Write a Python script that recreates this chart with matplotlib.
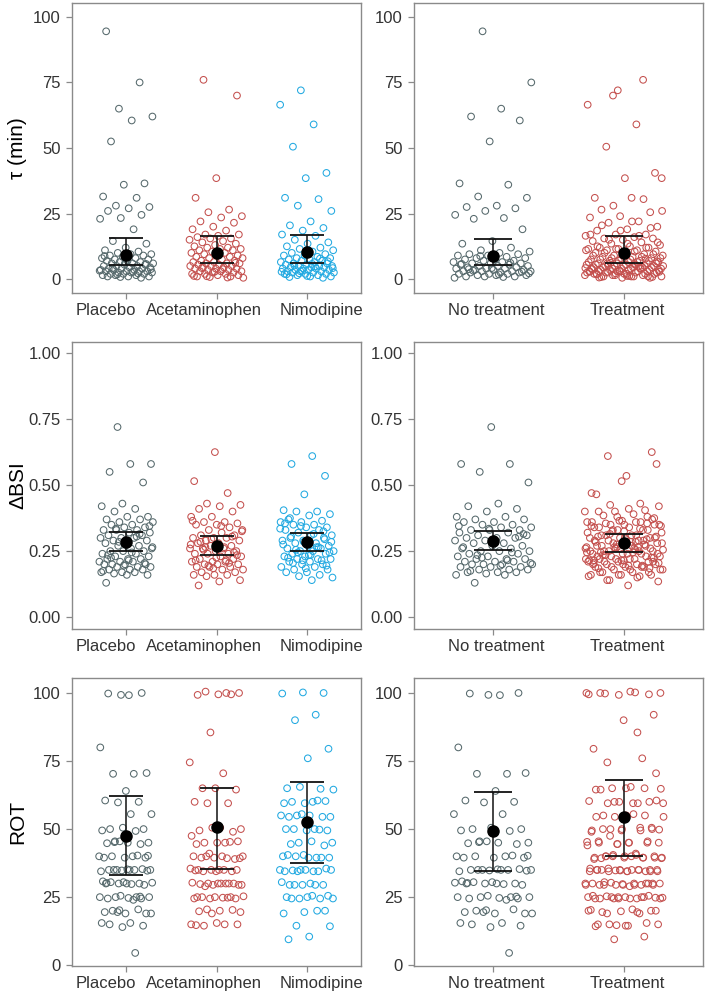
import matplotlib
matplotlib.use("Agg")
import matplotlib.pyplot as plt
import matplotlib.transforms as mtransforms
import numpy as np

plt.rcParams['font.family'] = ['Liberation Sans', 'DejaVu Sans']

# ---------------- data ----------------
groups3 = ["Placebo", "Acetaminophen", "Nimodipine"]
groups2 = ["No treatment", "Treatment"]
ylabels = ["\u03c4 (min)", "\u0394BSI", "ROT"]

tau_placebo = [94.5, 75, 65, 62, 60.5, 52.5, 36.5, 36, 31.5, 31, 28, 27.5, 27, 26, 24.5, 23.3, 23, 19,
               14.5, 13.5, 12, 11, 10.5, 10, 9.5, 9.5, 9, 9, 8.5, 8, 8, 7.5, 7.5, 7, 7, 6.5, 6.5, 6, 6, 6,
               5.5, 5.5, 5, 5, 5, 4.5, 4.5, 4, 4, 4, 3.5, 3.5, 3.5, 3, 3, 3, 3, 2.5, 2.5, 2.5, 2, 2, 2,
               1.5, 1.5, 1.5, 1, 1, 1, 0.5, 0.8, 3.2, 2.8, 4.2, 5.8, 6.2, 8.8, 2.2, 1.8, 3.8]
tau_acet = [76, 70, 38.5, 31, 26.5, 25.5, 24, 23.5, 22, 21.5, 20, 19, 18.5, 17, 17, 16.5, 16, 15.5, 15.5,
            15, 14.5, 14, 13.5, 13, 12.5, 12, 12, 11.5, 11.5, 11, 11, 10.5, 10, 10, 9.5, 9, 9, 8.5, 8.5,
            8, 8, 7.5, 7, 7, 6.5, 6.5, 6, 6, 6, 5.5, 5.5, 5, 5, 5, 4.5, 4.5, 4, 4, 4, 3.5, 3.5, 3, 3, 3,
            2.5, 2.5, 2, 2, 2, 1.5, 1.5, 1, 1, 0.8, 0.5, 3.8, 4.2, 6.2, 2.8, 1.2, 0.6, 1.1]
tau_nimo = [72, 66.5, 59, 50.5, 40.5, 38.5, 31, 30.5, 28, 26, 22, 20.5, 19.5, 18.5, 17, 16.5, 15, 14,
            13.5, 12.5, 12, 11.5, 11, 10.5, 10, 9.5, 9, 9, 8.5, 8, 8, 7.5, 7.5, 7, 7, 6.5, 6.5, 6, 6,
            5.5, 5.5, 5, 5, 5, 4.5, 4.5, 4.5, 4, 4, 4, 3.5, 3.5, 3.5, 3, 3, 3, 2.5, 2.5, 2.5, 2, 2, 2,
            1.5, 1.5, 1, 1, 0.8, 0.5, 3.2, 2.8, 4.8, 5.2, 6.8, 1.2, 1.8, 7.8, 2.2, 4.2, 5.8]

bsi_placebo = [0.72, 0.58, 0.58, 0.55, 0.51, 0.43, 0.42, 0.41, 0.40, 0.38, 0.38, 0.37, 0.37, 0.36, 0.36,
               0.35, 0.35, 0.34, 0.34, 0.33, 0.33, 0.33, 0.32, 0.32, 0.31, 0.31, 0.30, 0.30, 0.30, 0.29,
               0.29, 0.28, 0.28, 0.27, 0.27, 0.26, 0.26, 0.25, 0.25, 0.25, 0.24, 0.24, 0.23, 0.23, 0.22,
               0.22, 0.22, 0.21, 0.21, 0.21, 0.20, 0.20, 0.20, 0.20, 0.19, 0.19, 0.19, 0.18, 0.18, 0.18,
               0.17, 0.17, 0.17, 0.165, 0.16, 0.16, 0.13, 0.315, 0.285, 0.265, 0.245, 0.225, 0.205,
               0.195, 0.175, 0.305, 0.335, 0.345, 0.215, 0.235]
bsi_acet = [0.625, 0.515, 0.47, 0.43, 0.425, 0.42, 0.41, 0.40, 0.38, 0.38, 0.36, 0.36, 0.355, 0.35, 0.35,
            0.34, 0.33, 0.33, 0.32, 0.31, 0.31, 0.30, 0.30, 0.30, 0.29, 0.29, 0.28, 0.28, 0.27, 0.27,
            0.26, 0.26, 0.26, 0.25, 0.25, 0.24, 0.24, 0.24, 0.23, 0.23, 0.22, 0.22, 0.21, 0.21, 0.21,
            0.20, 0.20, 0.20, 0.19, 0.19, 0.19, 0.18, 0.18, 0.17, 0.17, 0.16, 0.16, 0.16, 0.155, 0.14,
            0.135, 0.12, 0.305, 0.295, 0.275, 0.265, 0.255, 0.235, 0.225, 0.215, 0.205, 0.195, 0.325,
            0.345, 0.285, 0.245, 0.185, 0.365, 0.215, 0.265]
bsi_nimo = [0.61, 0.58, 0.535, 0.465, 0.405, 0.40, 0.40, 0.39, 0.385, 0.37, 0.365, 0.36, 0.36, 0.35,
            0.35, 0.34, 0.34, 0.33, 0.33, 0.32, 0.31, 0.31, 0.30, 0.30, 0.29, 0.29, 0.28, 0.28, 0.27,
            0.27, 0.26, 0.26, 0.25, 0.25, 0.25, 0.24, 0.24, 0.23, 0.23, 0.22, 0.22, 0.22, 0.21, 0.21,
            0.20, 0.20, 0.19, 0.19, 0.18, 0.18, 0.17, 0.17, 0.16, 0.155, 0.15, 0.14, 0.305, 0.295,
            0.285, 0.275, 0.265, 0.255, 0.245, 0.235, 0.225, 0.215, 0.345, 0.335, 0.315, 0.205, 0.195,
            0.185, 0.355, 0.265, 0.245, 0.285, 0.235, 0.375, 0.325, 0.215]

rot_placebo = [99.2, 99.8, 100, 99.3, 80, 70.3, 70.3, 70.6, 64, 60.5, 60, 59.8, 55.5, 55.5, 50, 50,
               50.5, 49.5, 49.3, 45.5, 45, 45, 44.8, 44.5, 45.5, 40, 40, 40, 39.5, 39.5, 39.5, 40.3, 35,
               35, 35, 35, 35.3, 34.8, 34.5, 35, 35, 34.7, 30, 30, 30, 30, 30.3, 29.8, 30.5, 29.5, 30.5,
               30.8, 25, 25, 25, 24.7, 24.5, 24.5, 25.5, 25, 24, 20, 19, 19, 19.5, 20.5, 19.5, 19, 15.5,
               15, 14.5, 14, 15.5, 4.5, 45.2, 40.2, 35.2, 30.2, 25.2, 20.2]
rot_acet = [100, 100.5, 100, 99.5, 99.3, 99.5, 85.5, 74.5, 70.5, 65, 64.5, 65, 60, 59.5, 59.5, 50, 50.5,
            49.5, 49, 50.5, 47.5, 45, 45, 45.5, 45, 44.5, 45.3, 41, 40, 40, 39.5, 39, 39.5, 40, 39.3, 40,
            39.3, 35, 35, 34.5, 35, 35.5, 35, 34.5, 35, 34.5, 34.8, 30, 30, 29.5, 30, 29.8, 30, 29.5,
            30.3, 30, 29, 29.5, 30, 25, 25, 24.5, 25.3, 24.8, 25, 24.5, 25, 24.5, 24.8, 20.5, 19.5, 20,
            19.8, 20.3, 19, 15, 15, 14.5, 15, 15.5, 14.7]
rot_nimo = [100, 100.2, 99.8, 92, 90, 79.5, 76, 65, 64.8, 65.5, 64.5, 60, 60, 60.3, 59.5, 59.5, 60.5,
            55, 54.5, 55, 54.5, 54.5, 55.5, 55, 50, 50, 49.5, 49.5, 50, 49.8, 45, 45, 45.5, 44.5, 44,
            40.5, 40, 39.5, 40, 39.5, 39.5, 40.5, 39.5, 35, 35, 34.5, 34.8, 35.5, 35, 34.5, 34.5, 34.5,
            35, 30, 29.5, 29.5, 29.5, 30.5, 29.5, 29.5, 25.5, 25, 25, 24.5, 24.5, 24.5, 25.5, 24.5, 20,
            19.5, 19, 20, 14.5, 14.3, 10.5, 9.5]

# summary estimates (point, lower, upper)
tau_mean3 = [9.2, 9.8, 10.3]
tau_lo3 = [5.5, 6.0, 6.3]
tau_hi3 = [15.5, 16.5, 17.0]
tau_mean2 = [9.0, 10.0]
tau_lo2 = [5.5, 6.2]
tau_hi2 = [15.3, 16.3]

bsi_mean3 = [0.285, 0.270, 0.283]
bsi_lo3 = [0.250, 0.235, 0.250]
bsi_hi3 = [0.322, 0.308, 0.320]
bsi_mean2 = [0.288, 0.280]
bsi_lo2 = [0.253, 0.247]
bsi_hi2 = [0.326, 0.315]

rot_mean3 = [47.5, 50.8, 52.5]
rot_lo3 = [33.0, 35.5, 37.5]
rot_hi3 = [62.0, 65.2, 67.2]
rot_mean2 = [49.3, 54.4]
rot_lo2 = [34.6, 40.0]
rot_hi2 = [63.6, 68.0]

# ---------------- style ----------------
col_grey = "#56696c"
col_red = "#c4504e"
col_blue = "#22a9e1"
txt_col = "#333333"
spine_col = "#8a8a8a"

fig = plt.figure(figsize=(7.09, 9.96), dpi=100)

W, H = 709, 996
def ax_at(x0, y0, x1, y1):
    return fig.add_axes([x0 / W, 1 - y1 / H, (x1 - x0) / W, (y1 - y0) / H])

rows_y = [(3, 293), (342, 629), (678, 966)]
cols_x = [(72, 361), (414, 703)]
label_shift3 = [-20, -13, 15]   # px horizontal shift of category labels
label_shift2 = [3, 3]

row_data = [
    ([tau_placebo, tau_acet, tau_nimo], (tau_mean3, tau_lo3, tau_hi3), (tau_mean2, tau_lo2, tau_hi2),
     (-5.3, 105.3), [0, 25, 50, 75, 100], ["0", "25", "50", "75", "100"]),
    ([bsi_placebo, bsi_acet, bsi_nimo], (bsi_mean3, bsi_lo3, bsi_hi3), (bsi_mean2, bsi_lo2, bsi_hi2),
     (-0.045, 1.042), [0, 0.25, 0.5, 0.75, 1.0], ["0.00", "0.25", "0.50", "0.75", "1.00"]),
    ([rot_placebo, rot_acet, rot_nimo], (rot_mean3, rot_lo3, rot_hi3), (rot_mean2, rot_lo2, rot_hi2),
     (-0.3, 105.5), [0, 25, 50, 75, 100], ["0", "25", "50", "75", "100"]),
]

def jitter(n, width=0.3, phase=0.0):
    k = np.arange(n)
    return (((k * 0.6180339887 + phase) % 1.0) - 0.5) * 2 * width

def style_axes(ax, ylim, yt, ytl, xt, xtl, shifts):
    ax.set_ylim(*ylim)
    ax.set_yticks(yt)
    ax.set_yticklabels(ytl)
    ax.set_xticks(xt)
    ax.set_xticklabels(xtl)
    for s in ax.spines.values():
        s.set_color(spine_col)
        s.set_linewidth(1.0)
    ax.tick_params(axis='both', colors=spine_col, length=4, width=0.9, labelsize=12,
                   labelcolor=txt_col)
    ax.tick_params(axis='x', pad=3)
    ax.tick_params(axis='y', pad=4)
    for lab, dx in zip(ax.get_xticklabels(), shifts):
        lab.set_transform(lab.get_transform() +
                          mtransforms.ScaledTranslation(dx / 100.0, 0, fig.dpi_scale_trans))

def draw_summary(ax, xs, mean, lo, hi, capsize):
    mean = np.asarray(mean); lo = np.asarray(lo); hi = np.asarray(hi)
    ax.errorbar(xs, mean, yerr=[mean - lo, hi - mean], fmt='none', ecolor='#111111',
                elinewidth=1.1, capsize=capsize, capthick=1.3, zorder=4)
    ax.plot(xs, mean, 'o', color='black', markersize=8, zorder=5)

for r, (vals, s3, s2, ylim, yt, ytl) in enumerate(row_data):
    y0, y1 = rows_y[r]
    # left: three groups
    ax = ax_at(cols_x[0][0], y0, cols_x[0][1], y1)
    cols3 = [col_grey, col_red, col_blue]
    for i, v in enumerate(vals):
        v = np.asarray(v, float)
        x = (i + 1) + jitter(len(v), 0.3, phase=0.13 * (i + 1) + 0.21 * r)
        ax.scatter(x, v, s=23, facecolors='none', edgecolors=cols3[i], linewidths=0.75, zorder=3)
    draw_summary(ax, [1, 2, 3], *s3, capsize=12)
    ax.set_xlim(0.4, 3.6)
    style_axes(ax, ylim, yt, ytl, [1, 2, 3], groups3, label_shift3)
    ax.set_ylabel(ylabels[r], fontsize=15, color='black')
    ax.yaxis.set_label_coords((27 - 72) / 289, 0.5)

    # right: no treatment vs treatment
    ax2 = ax_at(cols_x[1][0], y0, cols_x[1][1], y1)
    v_nt = np.asarray(vals[0], float)
    v_t = np.concatenate([np.asarray(vals[1], float), np.asarray(vals[2], float)])
    for i, (v, c) in enumerate([(v_nt, col_grey), (v_t, col_red)]):
        x = (i + 1) + jitter(len(v), 0.3, phase=0.37 * (i + 1) + 0.11 * r)
        ax2.scatter(x, v, s=23, facecolors='none', edgecolors=c, linewidths=0.75, zorder=3)
    draw_summary(ax2, [1, 2], *s2, capsize=14)
    ax2.set_xlim(0.4, 2.6)
    style_axes(ax2, ylim, yt, ytl, [1, 2], groups2, label_shift2)

fig.savefig("out.png", dpi=100)
